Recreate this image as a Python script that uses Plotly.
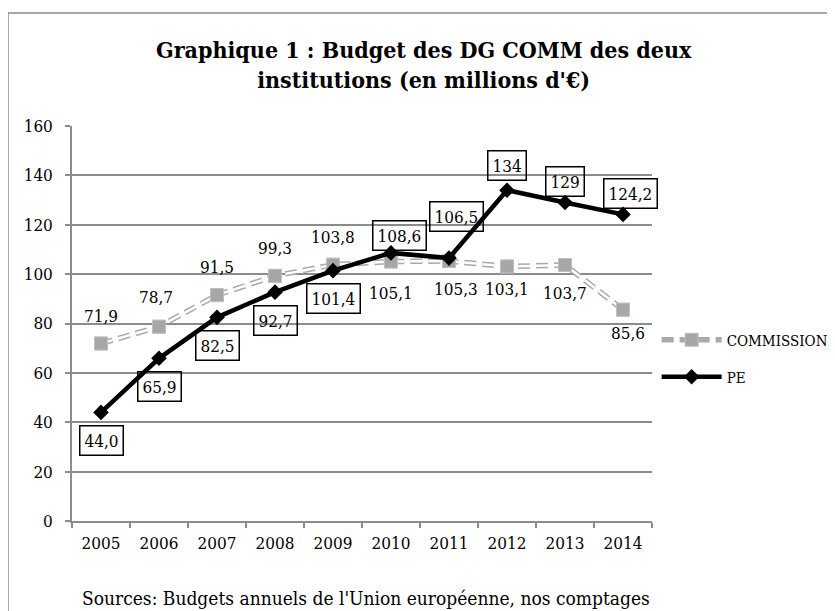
import plotly.graph_objects as go

years = ["2005", "2006", "2007", "2008", "2009", "2010", "2011", "2012", "2013", "2014"]
commission = [71.9, 78.7, 91.5, 99.3, 103.8, 105.1, 105.3, 103.1, 103.7, 85.6]
pe = [44.0, 65.9, 82.5, 92.7, 101.4, 108.6, 106.5, 134, 129, 124.2]
commission_labels = ["71,9", "78,7", "91,5", "99,3", "103,8", "105,1", "105,3", "103,1", "103,7", "85,6"]
pe_labels = ["44,0", "65,9", "82,5", "92,7", "101,4", "108,6", "106,5", "134", "129", "124,2"]
y_ticks = [0, 20, 40, 60, 80, 100, 120, 140, 160]

title_text = "Graphique 1 : Budget des DG COMM des deux<br>institutions (en millions d'€)"
source_text = "Sources: Budgets annuels de l'Union européenne, nos comptages"

# label offsets (pixels): (xshift, yshift)
com_shift = [(0, 28), (-3, 30), (0, 28), (0, 28), (0, 28),
             (0, -31), (7, -28), (0, -23), (0, -28), (5, -23)]
pe_shift = [(0, -28), (0, -28), (0, -28), (0, -28), (0, -28),
            (8, 17), (7, 42), (0, 25), (0, 21), (7, 21)]

FONT = "DejaVu Serif Condensed, Liberation Serif, serif"

dash = "12px,6px"
fig = go.Figure()
# Commission: outer gray dashed line + markers (legend)
fig.add_trace(go.Scatter(
    x=years, y=commission, mode="lines+markers", name="COMMISSION",
    line=dict(color="#a9a9a9", width=5.5, dash=dash),
    marker=dict(symbol="square", size=13, color="#a6a6a6", line=dict(color="#c0c0c0", width=1)),
    legend="legend"))
# inner white core for hollow dash effect
fig.add_trace(go.Scatter(
    x=years, y=commission, mode="lines", showlegend=False, hoverinfo="skip",
    line=dict(color="white", width=2.5, dash=dash)))
fig.add_trace(go.Scatter(
    x=years, y=commission, mode="markers", showlegend=False, hoverinfo="skip",
    marker=dict(symbol="square", size=13, color="#a6a6a6", line=dict(color="#c0c0c0", width=1))))
# PE
fig.add_trace(go.Scatter(
    x=years, y=pe, mode="lines+markers", name="PE",
    line=dict(color="black", width=4.5),
    marker=dict(symbol="diamond", size=12, color="black"),
    legend="legend2"))

annotations = []
for i, v in enumerate(commission):
    xs, ys = com_shift[i]
    annotations.append(dict(x=i, y=v, xref="x", yref="y", text=commission_labels[i], showarrow=False,
                            xshift=xs, yshift=ys, font=dict(family=FONT, size=17, color="black")))
for i, v in enumerate(pe):
    xs, ys = pe_shift[i]
    annotations.append(dict(x=i, y=v, xref="x", yref="y", text=pe_labels[i], showarrow=False,
                            xshift=xs, yshift=ys, font=dict(family=FONT, size=17, color="black"),
                            bordercolor="black", borderwidth=1.5, borderpad=4))

# title
annotations.append(dict(x=0.607, y=1.156, xref="paper", yref="paper", text="<b>" + title_text + "</b>",
                        showarrow=False, xanchor="center", yanchor="middle",
                        font=dict(family=FONT, size=23, color="black")))
# sources
annotations.append(dict(x=0.0138, y=-0.195, xref="paper", yref="paper", text=source_text,
                        showarrow=False, xanchor="left", yanchor="middle",
                        font=dict(family=FONT, size=19, color="black")))

fig.update_layout(
    width=835, height=611,
    margin=dict(l=64, r=191, t=118, b=98, autoexpand=False),
    paper_bgcolor="white", plot_bgcolor="white",
    font=dict(family=FONT, size=17, color="black"),
    showlegend=True,
    legend=dict(x=1.008, y=(521 - 340) / 395, xanchor="left", yanchor="middle",
                font=dict(family=FONT, size=15, color="black"), itemwidth=60,
                bgcolor="rgba(0,0,0,0)"),
    legend2=dict(x=1.008, y=(521 - 377) / 395, xanchor="left", yanchor="middle",
                 font=dict(family=FONT, size=15, color="black"), itemwidth=60,
                 bgcolor="rgba(0,0,0,0)"),
    annotations=annotations,
    shapes=[dict(type="rect", xref="paper", yref="paper",
                 x0=-64 / 580, x1=2.0, y0=-1.0, y1=(513 - 5) / 395,
                 line=dict(color="#8c8c8c", width=1.5), fillcolor="rgba(0,0,0,0)", layer="below")],
    xaxis=dict(type="category", range=[-0.5, 9.5], showgrid=False,
               showline=True, linecolor="#8c8c8c", linewidth=1.5,
               ticks="outside", tickson="boundaries", ticklen=5, tickcolor="#8c8c8c", tickwidth=1.5,
               tickfont=dict(family=FONT, size=17, color="black"), ticklabelstandoff=6),
    yaxis=dict(range=[0, 160], tickvals=y_ticks, showgrid=True, gridcolor="#8c8c8c", gridwidth=1.5,
               showline=True, linecolor="#8c8c8c", linewidth=1.5, zeroline=False,
               ticks="outside", ticklen=5, tickcolor="#8c8c8c", tickwidth=1.5,
               tickfont=dict(family=FONT, size=17, color="black"), ticklabelstandoff=9),
)

fig.write_html("out.html")
